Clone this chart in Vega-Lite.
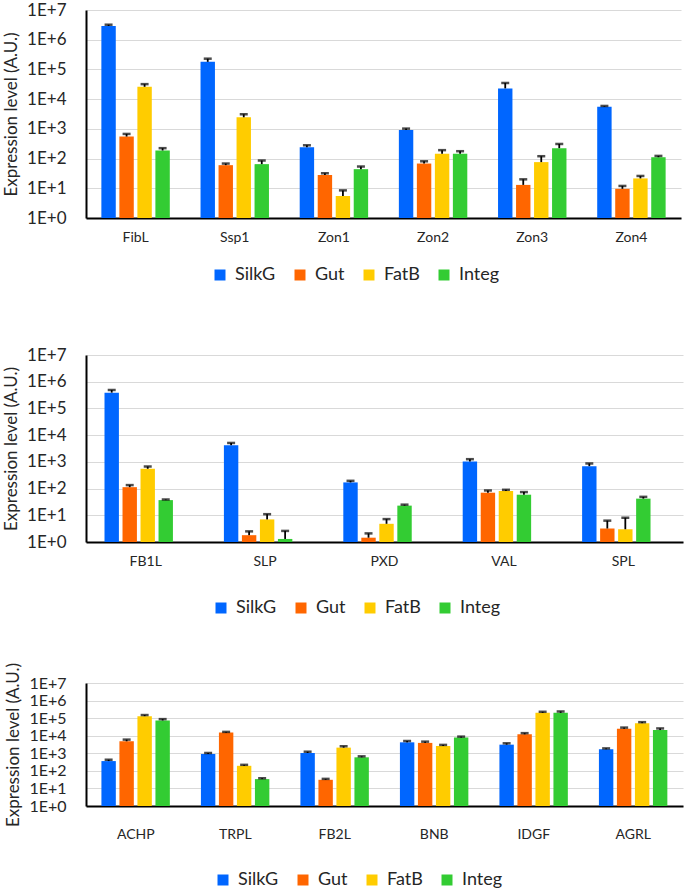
{
  "$schema": "https://vega.github.io/schema/vega-lite/v6.json",
  "padding": {"top": 1, "left": 2, "right": 2, "bottom": 0},
  "background": "white",
  "datasets": {
    "p1": [
      {"gene": "FibL", "tissue": "SilkG", "value": 2900000, "upper": 3200000},
      {"gene": "FibL", "tissue": "Gut", "value": 550, "upper": 675},
      {"gene": "FibL", "tissue": "FatB", "value": 26000, "upper": 32000},
      {"gene": "FibL", "tissue": "Integ", "value": 187, "upper": 224},
      {"gene": "Ssp1", "tissue": "SilkG", "value": 180000, "upper": 230000},
      {"gene": "Ssp1", "tissue": "Gut", "value": 60, "upper": 68},
      {"gene": "Ssp1", "tissue": "FatB", "value": 2450, "upper": 3100},
      {"gene": "Ssp1", "tissue": "Integ", "value": 65, "upper": 86},
      {"gene": "Zon1", "tissue": "SilkG", "value": 240, "upper": 280},
      {"gene": "Zon1", "tissue": "Gut", "value": 28, "upper": 32},
      {"gene": "Zon1", "tissue": "FatB", "value": 5.5, "upper": 8.5},
      {"gene": "Zon1", "tissue": "Integ", "value": 44, "upper": 54},
      {"gene": "Zon2", "tissue": "SilkG", "value": 920, "upper": 1020},
      {"gene": "Zon2", "tissue": "Gut", "value": 68, "upper": 81},
      {"gene": "Zon2", "tissue": "FatB", "value": 144, "upper": 192},
      {"gene": "Zon2", "tissue": "Integ", "value": 144, "upper": 177},
      {"gene": "Zon3", "tissue": "SilkG", "value": 23000, "upper": 35000},
      {"gene": "Zon3", "tissue": "Gut", "value": 13, "upper": 20},
      {"gene": "Zon3", "tissue": "FatB", "value": 76, "upper": 120},
      {"gene": "Zon3", "tissue": "Integ", "value": 224, "upper": 310},
      {"gene": "Zon4", "tissue": "SilkG", "value": 5600, "upper": 5900},
      {"gene": "Zon4", "tissue": "Gut", "value": 9.6, "upper": 12},
      {"gene": "Zon4", "tissue": "FatB", "value": 21.5, "upper": 26},
      {"gene": "Zon4", "tissue": "Integ", "value": 111, "upper": 123}
    ],
    "p2": [
      {"gene": "FB1L", "tissue": "SilkG", "value": 390000, "upper": 490000},
      {"gene": "FB1L", "tissue": "Gut", "value": 113, "upper": 135},
      {"gene": "FB1L", "tissue": "FatB", "value": 550, "upper": 670},
      {"gene": "FB1L", "tissue": "Integ", "value": 37, "upper": 39},
      {"gene": "SLP", "tissue": "SilkG", "value": 4200, "upper": 5100},
      {"gene": "SLP", "tissue": "Gut", "value": 1.8, "upper": 2.5},
      {"gene": "SLP", "tissue": "FatB", "value": 7, "upper": 11},
      {"gene": "SLP", "tissue": "Integ", "value": 1.3, "upper": 2.6},
      {"gene": "PXD", "tissue": "SilkG", "value": 170, "upper": 195},
      {"gene": "PXD", "tissue": "Gut", "value": 1.45, "upper": 2.1},
      {"gene": "PXD", "tissue": "FatB", "value": 4.8, "upper": 7.2},
      {"gene": "PXD", "tissue": "Integ", "value": 23, "upper": 25},
      {"gene": "VAL", "tissue": "SilkG", "value": 1030, "upper": 1260},
      {"gene": "VAL", "tissue": "Gut", "value": 70, "upper": 85},
      {"gene": "VAL", "tissue": "FatB", "value": 81, "upper": 90},
      {"gene": "VAL", "tissue": "Integ", "value": 59, "upper": 74},
      {"gene": "SPL", "tissue": "SilkG", "value": 690, "upper": 870},
      {"gene": "SPL", "tissue": "Gut", "value": 3.2, "upper": 6.3},
      {"gene": "SPL", "tissue": "FatB", "value": 3.0, "upper": 8.1},
      {"gene": "SPL", "tissue": "Integ", "value": 42, "upper": 49}
    ],
    "p3": [
      {"gene": "ACHP", "tissue": "SilkG", "value": 360, "upper": 430},
      {"gene": "ACHP", "tissue": "Gut", "value": 4800, "upper": 6000},
      {"gene": "ACHP", "tissue": "FatB", "value": 130000, "upper": 150000},
      {"gene": "ACHP", "tissue": "Integ", "value": 74000, "upper": 88000},
      {"gene": "TRPL", "tissue": "SilkG", "value": 910, "upper": 1040},
      {"gene": "TRPL", "tissue": "Gut", "value": 15000, "upper": 16500},
      {"gene": "TRPL", "tissue": "FatB", "value": 194, "upper": 220},
      {"gene": "TRPL", "tissue": "Integ", "value": 34, "upper": 38},
      {"gene": "FB2L", "tissue": "SilkG", "value": 1040, "upper": 1230},
      {"gene": "FB2L", "tissue": "Gut", "value": 31, "upper": 35},
      {"gene": "FB2L", "tissue": "FatB", "value": 2100, "upper": 2500},
      {"gene": "FB2L", "tissue": "Integ", "value": 590, "upper": 670},
      {"gene": "BNB", "tissue": "SilkG", "value": 4200, "upper": 5000},
      {"gene": "BNB", "tissue": "Gut", "value": 3900, "upper": 4600},
      {"gene": "BNB", "tissue": "FatB", "value": 2600, "upper": 3000},
      {"gene": "BNB", "tissue": "Integ", "value": 7800, "upper": 8900},
      {"gene": "IDGF", "tissue": "SilkG", "value": 3100, "upper": 3700},
      {"gene": "IDGF", "tissue": "Gut", "value": 12000, "upper": 14000},
      {"gene": "IDGF", "tissue": "FatB", "value": 200000, "upper": 230000},
      {"gene": "IDGF", "tissue": "Integ", "value": 200000, "upper": 240000},
      {"gene": "AGRL", "tissue": "SilkG", "value": 1700, "upper": 1900},
      {"gene": "AGRL", "tissue": "Gut", "value": 25000, "upper": 29000},
      {"gene": "AGRL", "tissue": "FatB", "value": 52000, "upper": 59000},
      {"gene": "AGRL", "tissue": "Integ", "value": 21000, "upper": 26000}
    ]
  },
  "config": {
    "font": "Lato",
    "view": {"stroke": null},
    "axis": {"labelFont": "Lato", "titleFont": "Lato", "titleFontWeight": "normal"},
    "legend": {"labelFont": "Lato"}
  },
  "vconcat": [
    {
      "vconcat": [
        {
          "data": {"name": "p1"},
          "width": 595,
          "height": 208,
          "encoding": {
            "x": {"field": "gene", "type": "nominal", "sort": null, "scale": {"paddingInner": 0.31, "paddingOuter": 0.155},
                  "axis": {"title": null, "labelAngle": 0, "labelFontSize": 14, "labelPadding": 12, "ticks": false, "domainColor": "black", "domainWidth": 2, "labelColor": "#262626"}},
            "xOffset": {"field": "tissue", "type": "nominal", "sort": ["SilkG", "Gut", "FatB", "Integ"], "scale": {"paddingInner": 0.2, "paddingOuter": 0}}
          },
          "layer": [
            {
              "mark": {"type": "bar"},
              "encoding": {
                "y": {"field": "value", "type": "quantitative", "stack": null, "scale": {"type": "log", "domain": [1, 10000000], "nice": false},
                      "axis": {"title": "Expression level (A.U.)", "titleFontSize": 17, "titlePadding": 6, "values": [1, 10, 100, 1000, 10000, 100000, 1000000, 10000000],
                               "labelExpr": "'1E+' + round(log(datum.value)/LN10)", "labelFontSize": 17, "labelPadding": 20, "ticks": false,
                               "domainColor": "black", "domainWidth": 2, "gridColor": "#d9d9d9", "gridWidth": 1.2, "labelColor": "#262626", "titleColor": "#262626"}},
                "color": {"field": "tissue", "type": "nominal", "scale": {"domain": ["SilkG", "Gut", "FatB", "Integ"], "range": ["#0066ff", "#ff6600", "#ffcc00", "#33cc33"]},
                          "legend": {"title": null, "orient": "none", "direction": "horizontal", "legendX": 125, "legendY": 256, "labelFontSize": 18, "symbolType": "square", "symbolSize": 121, "symbolStrokeWidth": 0, "columnPadding": 15, "labelOffset": 6, "padding": 0, "labelColor": "#262626"}}
              }
            },
            {
              "mark": {"type": "rule", "color": "black", "strokeWidth": 1.8},
              "encoding": {"y": {"field": "value", "type": "quantitative"}, "y2": {"field": "upper"}}
            },
            {
              "mark": {"type": "tick", "color": "black", "orient": "horizontal", "size": 8, "thickness": 2.5},
              "encoding": {"y": {"field": "upper", "type": "quantitative"}}
            }
          ]
        },
        {
          "data": {"name": "p2"},
          "width": 597,
          "height": 187,
          "encoding": {
            "x": {"field": "gene", "type": "nominal", "sort": null, "scale": {"paddingInner": 0.31, "paddingOuter": 0.155},
                  "axis": {"title": null, "labelAngle": 0, "labelFontSize": 14, "labelPadding": 12, "ticks": false, "domainColor": "black", "domainWidth": 2, "labelColor": "#262626"}},
            "xOffset": {"field": "tissue", "type": "nominal", "sort": ["SilkG", "Gut", "FatB", "Integ"], "scale": {"paddingInner": 0.2, "paddingOuter": 0}}
          },
          "layer": [
            {
              "mark": {"type": "bar"},
              "encoding": {
                "y": {"field": "value", "type": "quantitative", "stack": null, "scale": {"type": "log", "domain": [1, 10000000], "nice": false},
                      "axis": {"title": "Expression level (A.U.)", "titleFontSize": 17, "titlePadding": 6, "values": [1, 10, 100, 1000, 10000, 100000, 1000000, 10000000],
                               "labelExpr": "'1E+' + round(log(datum.value)/LN10)", "labelFontSize": 17, "labelPadding": 20, "ticks": false,
                               "domainColor": "black", "domainWidth": 2, "gridColor": "#d9d9d9", "gridWidth": 1.2, "labelColor": "#262626", "titleColor": "#262626"}},
                "color": {"field": "tissue", "type": "nominal", "scale": {"domain": ["SilkG", "Gut", "FatB", "Integ"], "range": ["#0066ff", "#ff6600", "#ffcc00", "#33cc33"]},
                          "legend": {"title": null, "orient": "none", "direction": "horizontal", "legendX": 126, "legendY": 244, "labelFontSize": 18, "symbolType": "square", "symbolSize": 121, "symbolStrokeWidth": 0, "columnPadding": 15, "labelOffset": 6, "padding": 0, "labelColor": "#262626"}}
              }
            },
            {
              "mark": {"type": "rule", "color": "black", "strokeWidth": 1.8},
              "encoding": {"y": {"field": "value", "type": "quantitative"}, "y2": {"field": "upper"}}
            },
            {
              "mark": {"type": "tick", "color": "black", "orient": "horizontal", "size": 8, "thickness": 2.5},
              "encoding": {"y": {"field": "upper", "type": "quantitative"}}
            }
          ]
        }
      ],
      "spacing": 62,
      "resolve": {"scale": {"color": "independent"}}
    },
    {
      "data": {"name": "p3"},
      "width": 597,
      "height": 123,
      "encoding": {
        "x": {"field": "gene", "type": "nominal", "sort": null, "scale": {"paddingInner": 0.31, "paddingOuter": 0.155},
              "axis": {"title": null, "labelAngle": 0, "labelFontSize": 14, "labelPadding": 21, "ticks": false, "domainColor": "black", "domainWidth": 2, "labelColor": "#262626"}},
        "xOffset": {"field": "tissue", "type": "nominal", "sort": ["SilkG", "Gut", "FatB", "Integ"], "scale": {"paddingInner": 0.2, "paddingOuter": 0}}
      },
      "layer": [
        {
          "mark": {"type": "bar"},
          "encoding": {
            "y": {"field": "value", "type": "quantitative", "stack": null, "scale": {"type": "log", "domain": [1, 10000000], "nice": false},
                  "axis": {"title": "Expression level (A.U.)", "titleFontSize": 17, "titlePadding": 6, "values": [1, 10, 100, 1000, 10000, 100000, 1000000, 10000000],
                           "labelExpr": "'1E+' + round(log(datum.value)/LN10)", "labelFontSize": 16, "labelPadding": 20, "ticks": false,
                           "domainColor": "black", "domainWidth": 2, "gridColor": "#d9d9d9", "gridWidth": 1.2, "labelColor": "#262626", "titleColor": "#262626"}},
            "color": {"field": "tissue", "type": "nominal", "scale": {"domain": ["SilkG", "Gut", "FatB", "Integ"], "range": ["#0066ff", "#ff6600", "#ffcc00", "#33cc33"]},
                      "legend": {"title": null, "orient": "none", "direction": "horizontal", "legendX": 128, "legendY": 188, "labelFontSize": 18, "symbolType": "square", "symbolSize": 121, "symbolStrokeWidth": 0, "columnPadding": 15, "labelOffset": 6, "padding": 0, "labelColor": "#262626"}}
          }
        },
        {
          "mark": {"type": "rule", "color": "black", "strokeWidth": 1.8},
          "encoding": {"y": {"field": "value", "type": "quantitative"}, "y2": {"field": "upper"}}
        },
        {
          "mark": {"type": "tick", "color": "black", "orient": "horizontal", "size": 8, "thickness": 2.5},
          "encoding": {"y": {"field": "upper", "type": "quantitative"}}
        }
      ]
    }
  ],
  "spacing": 45,
  "resolve": {"scale": {"color": "independent"}}
}
